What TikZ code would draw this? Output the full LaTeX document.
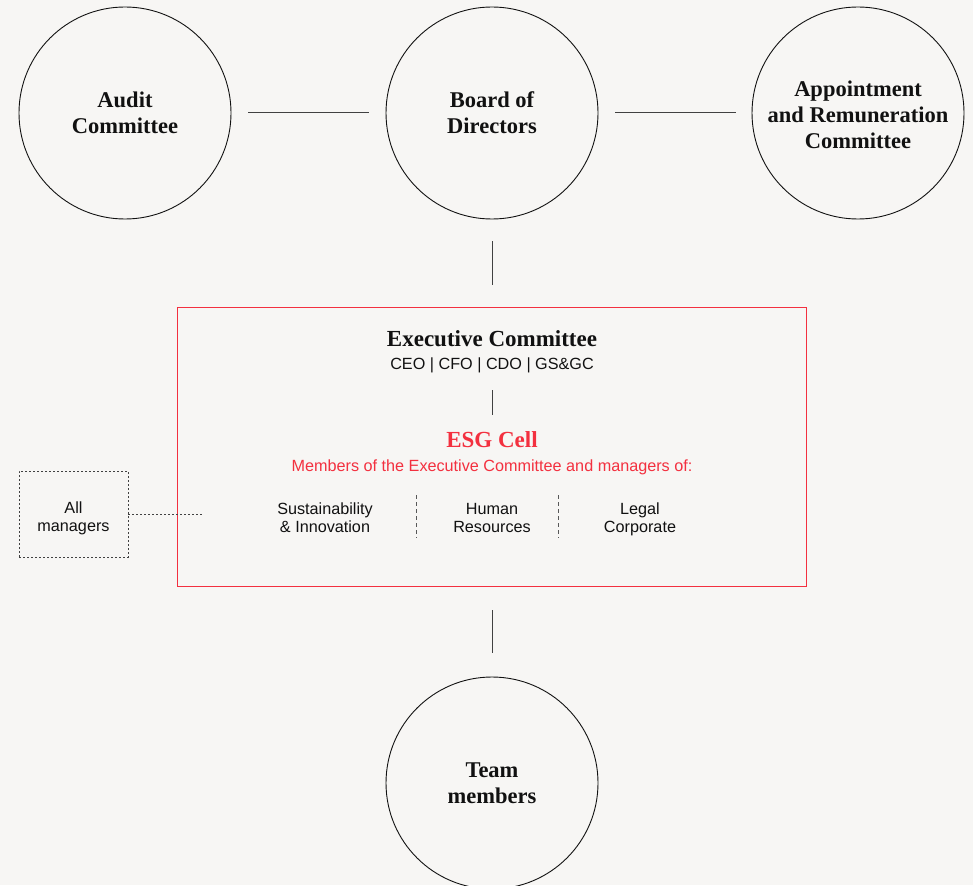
\documentclass[tikz,border=0pt]{standalone}
\usepackage{fontspec}
\setmainfont{Liberation Serif}
\setsansfont{Liberation Sans}
\definecolor{bg}{HTML}{F7F6F4}
\definecolor{esgred}{HTML}{F3303F}
\definecolor{ink}{HTML}{111111}
\begin{document}
\begin{tikzpicture}[x=1pt,y=-1pt,
  circ/.style={circle,draw=ink,line width=0.9pt,minimum size=212pt,inner sep=0pt,align=center,
    font=\fontsize{22.5}{26}\selectfont\bfseries,text=ink},
  conn/.style={draw=ink!80,line width=1pt},
  sans/.style={font=\sffamily\fontsize{16.2}{18}\selectfont,text=ink,align=center},
  title/.style={font=\fontsize{23}{26}\selectfont\bfseries,align=center}]
\fill[bg] (0,0) rectangle (973,885);
\useasboundingbox (0,0) rectangle (973,885);
\node[circ] (audit) at (125,113) {Audit\\Committee};
\node[circ] (board) at (492,113) {Board of\\Directors};
\node[circ] (appt) at (858,113) {};
\node[circ,draw=none,minimum size=0pt] (appttxt) at (858,115) {Appointment\\and Remuneration\\Committee};
\node[circ] (team) at (492,783) {Team\\members};
\coordinate (l1a) at (248,113); \coordinate (l1b) at (369,113);
\coordinate (l2a) at (615,113); \coordinate (l2b) at (736,113);
\draw[conn] (l1a) -- (l1b);
\draw[conn] (l2a) -- (l2b);
\coordinate (v1a) at (492,241); \coordinate (v1b) at (492,285);
\draw[conn] (v1a) -- (v1b);
\node[draw=esgred,line width=0.9pt,minimum width=629pt,minimum height=279pt,inner sep=0pt] (box) at (491.5,446.5) {};
\node[title,text=ink] (exec) at (492,339) {Executive Committee};
\node[sans] (roles) at (492,365) {CEO | CFO | CDO | GS\&GC};
\coordinate (v2a) at (492,390); \coordinate (v2b) at (492,415);
\draw[conn] (v2a) -- (v2b);
\node[title,text=esgred] (esg) at (492,440) {ESG Cell};
\node[sans,text=esgred] (members) at (492,467) {Members of the Executive Committee and managers of:};
\node[sans] (sust) at (325,518) {Sustainability\\\& Innovation};
\node[sans] (hr) at (492,518) {Human\\Resources};
\node[sans] (legal) at (640,519) {Legal\\Corporate};
\coordinate (d1a) at (416,495); \coordinate (d1b) at (416,538);
\coordinate (d2a) at (558,495); \coordinate (d2b) at (558,538);
\draw[ink!70,line width=0.9pt,dash pattern=on 4pt off 3pt] (d1a) -- (d1b);
\draw[ink!70,line width=0.9pt,dash pattern=on 4pt off 3pt] (d2a) -- (d2b);
\node[draw=ink!80,line width=0.9pt,dash pattern=on 2pt off 2pt,minimum width=109pt,minimum height=86pt,inner sep=0pt] (all) at (73.5,514) {};
\node[sans] (alltxt) at (73.5,518) {All\\managers};
\coordinate (dl) at (204,514);
\draw[ink!80,line width=0.9pt,dash pattern=on 2pt off 2pt] (all.east) -- (dl);
\coordinate (v3a) at (492,610); \coordinate (v3b) at (492,653);
\draw[conn] (v3a) -- (v3b);
\end{tikzpicture}
\end{document}
